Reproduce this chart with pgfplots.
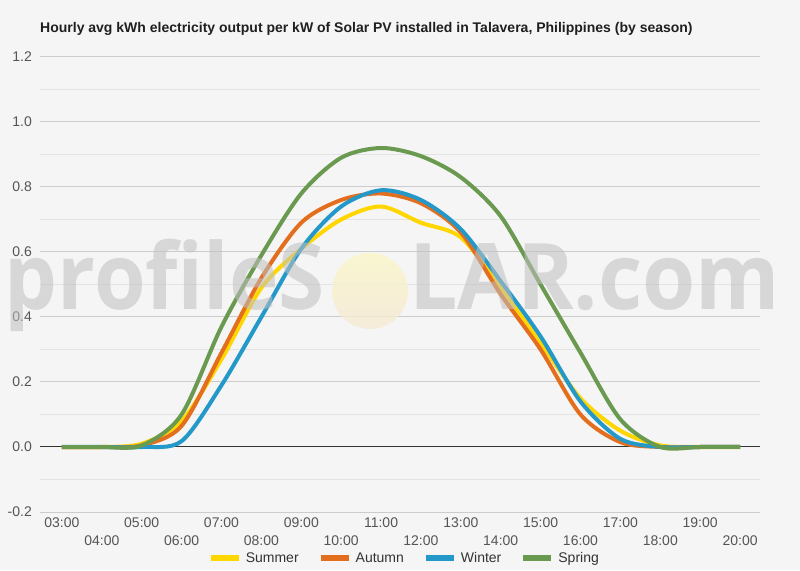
\documentclass[border=0pt]{standalone}
\usepackage{fontspec}
\setmainfont{Liberation Sans}
\newfontfamily\wmfont{Open Sans}
\usepackage{pgfplots}
\pgfplotsset{compat=1.18}
\usepackage{pgfplotstable}

\definecolor{bgc}{HTML}{F5F5F5}
\definecolor{summer}{RGB}{255,214,0}
\definecolor{autumn}{RGB}{227,111,30}
\definecolor{winter}{RGB}{36,153,201}
\definecolor{spring}{RGB}{106,153,80}
\definecolor{gridmaj}{HTML}{CCCCCC}
\definecolor{gridmin}{HTML}{E3E3E3}
\definecolor{ticktxt}{HTML}{555555}
\definecolor{wmgray}{RGB}{192,192,192}

% hourly average output per kW, by season
\pgfplotstableread{
hour summer autumn winter spring
3    0      0      0      0
4    0      0      0      0
5    0.010  0.005  0.000  0.005
6    0.080  0.065  0.018  0.100
7    0.270  0.290  0.190  0.370
8    0.490  0.520  0.400  0.590
9    0.610  0.690  0.610  0.780
10   0.700  0.760  0.740  0.890
11   0.740  0.780  0.790  0.920
12   0.690  0.750  0.760  0.895
13   0.645  0.660  0.670  0.830
14   0.490  0.470  0.510  0.710
15   0.320  0.300  0.340  0.500
16   0.150  0.100  0.140  0.290
17   0.050  0.015  0.025  0.085
18   0.005  0      0      0
19   0      0      0      0
20   0      0      0      0
}\season

% watermark text widths
\newcommand\wmstyle{\wmfont\bfseries\fontsize{92}{92}\selectfont}
\newlength\wmw
\settowidth\wmw{\wmstyle profileS}
\pgfmathsetmacro\sxleft{320pt/\wmw}
\settowidth\wmw{\wmstyle LAR.com}
\pgfmathsetmacro\sxright{371pt/\wmw}

\begin{document}
\begin{tikzpicture}[x=1pt,y=1pt]
\useasboundingbox (0,0) rectangle (800,570);
\fill[bgc] (0,0) rectangle (800,570);
\node[anchor=base west, inner sep=0pt, text=black!88,
      font=\fontsize{14}{16}\selectfont\bfseries] at (40,537)
  {Hourly avg kWh electricity output per kW of Solar PV installed in Talavera, Philippines (by season)};

\begin{axis}[
    at={(40pt,58pt)}, anchor=south west,
    scale only axis, width=720pt, height=455pt,
    xmin=2.45, xmax=20.5, ymin=-0.2, ymax=1.2,
    axis line style={draw=none},
    major tick length=0pt, minor tick length=0pt,
    ytick={-0.2,0,0.2,0.4,0.6,0.8,1.0,1.2},
    yticklabels={-0.2,0.0,0.2,0.4,0.6,0.8,1.0,1.2},
    minor ytick={-0.1,0.1,0.3,0.5,0.7,0.9,1.1},
    ymajorgrids, yminorgrids,
    major grid style={draw=gridmaj, line width=1pt},
    minor grid style={draw=gridmin, line width=1pt},
    extra y ticks={0}, extra y tick labels={},
    extra y tick style={grid=major, major grid style={draw=black!80, line width=1pt}},
    xtick={3,5,...,19},
    xticklabels={03:00,05:00,07:00,09:00,11:00,13:00,15:00,17:00,19:00},
    extra x ticks={4,6,...,20},
    extra x tick labels={04:00,06:00,08:00,10:00,12:00,14:00,16:00,18:00,20:00},
    extra x tick style={xticklabel style={yshift=-18pt}},
    yticklabel style={anchor=east, inner sep=0pt, xshift=-8pt, text=ticktxt,
                      font=\fontsize{14}{16}\selectfont},
    xticklabel style={anchor=north, inner sep=0pt, yshift=-6pt, text=ticktxt,
                      font=\fontsize{14}{16}\selectfont},
    legend columns=4,
    legend style={at={(0.506,-0.1011)}, anchor=center, draw=none, fill=none,
                  font=\fontsize{14}{16}\selectfont, text=black!80,
                  /tikz/every odd column/.append style={column sep=2pt},
                  /tikz/every even column/.append style={column sep=17pt}},
    legend image code/.code={\draw[#1, line width=6pt] (0pt,0pt) -- (28pt,0pt);},
]
\addplot[summer, line width=4pt, smooth] table[x=hour, y=summer] {\season};
\addlegendentry{Summer}
\addplot[autumn, line width=4pt, smooth] table[x=hour, y=autumn] {\season};
\addlegendentry{Autumn}
\addplot[winter, line width=4pt, smooth] table[x=hour, y=winter] {\season};
\addlegendentry{Winter}
\addplot[spring, line width=4pt, smooth] table[x=hour, y=spring] {\season};
\addlegendentry{Spring}
\end{axis}

% watermark
\shade[top color={rgb,255:red,250;green,246;blue,198}, bottom color={rgb,255:red,246;green,233;blue,212},
       fill opacity=0.8] (370,279) circle (38);
\node[anchor=base east, inner sep=0pt, text=wmgray, text opacity=0.55] at (325,260)
  {\scalebox{\sxleft}[1]{\wmstyle profileS}};
\node[anchor=base west, inner sep=0pt, text=wmgray, text opacity=0.55] at (409,260)
  {\scalebox{\sxright}[1]{\wmstyle LAR.com}};
\end{tikzpicture}
\end{document}
